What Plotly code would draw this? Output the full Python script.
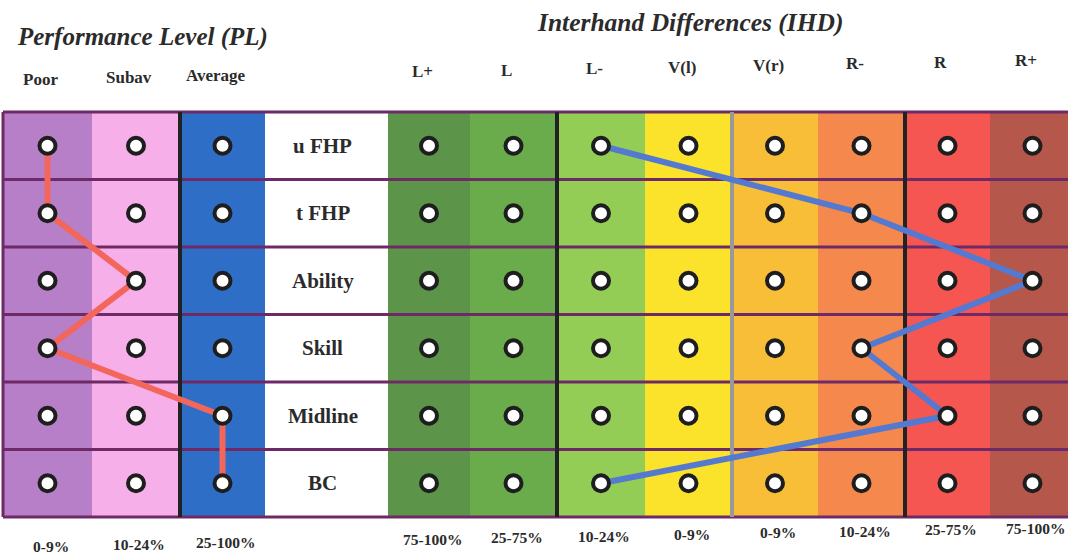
import plotly.graph_objects as go

# ---------------- data ----------------
pl_levels = ["Poor", "Subav", "Average"]
pl_ranges = ["0-9%", "10-24%", "25-100%"]
ihd_levels = ["L+", "L", "L-", "V(l)", "V(r)", "R-", "R", "R+"]
ihd_ranges = ["75-100%", "25-75%", "10-24%", "0-9%", "0-9%", "10-24%", "25-75%", "75-100%"]
rows = ["u FHP", "t FHP", "Ability", "Skill", "Midline", "BC"]
pl_result = ["Poor", "Poor", "Subav", "Poor", "Average", "Average"]
ihd_result = ["L-", "R-", "R+", "R-", "R", "L-"]

# ---------------- layout / style ----------------
W, H = 1068, 558
columns = pl_levels + ["__label__"] + ihd_levels
col_edges = [3, 92, 180, 265, 388, 470, 557, 645, 732, 818, 905, 990, 1075]
col_colors = {
    "Poor": "#b77fc7", "Subav": "#f6afe9", "Average": "#2f6ec6", "__label__": "#ffffff",
    "L+": "#5c9549", "L": "#6aac4c", "L-": "#93cd56", "V(l)": "#fbe22b",
    "V(r)": "#f8be38", "R-": "#f5884c", "R": "#f55652", "R+": "#b6574c",
}
TOP, ROW_H = 112, 67.5
n_rows = len(rows)
y_lo = -0.5 - TOP / ROW_H
y_hi = -0.5 + (H - TOP) / ROW_H


def cx(name):
    i = columns.index(name)
    return (col_edges[i] + col_edges[i + 1]) / 2


def py(px):  # pixel y -> paper
    return 1 - px / H


shapes = []
for i, c in enumerate(columns):
    shapes.append(dict(type="rect", xref="x", yref="y", x0=col_edges[i], x1=col_edges[i + 1],
                       y0=-0.5, y1=n_rows - 0.5, fillcolor=col_colors[c], line_width=0, layer="below"))
for r in range(n_rows + 1):
    shapes.append(dict(type="line", xref="x", yref="y", x0=col_edges[0], x1=col_edges[-1],
                       y0=r - 0.5, y1=r - 0.5, line=dict(color="#6e2a66", width=3), layer="below"))
shapes.append(dict(type="line", xref="x", yref="y", x0=col_edges[0], x1=col_edges[0],
                   y0=-0.5, y1=n_rows - 0.5, line=dict(color="#6e2a66", width=3), layer="below"))
for name, colr in [("Average", "#222222"), ("L-", "#222222"), ("V(r)", "#999999"), ("R", "#222222")]:
    x = col_edges[columns.index(name)]
    shapes.append(dict(type="line", xref="x", yref="y", x0=x, x1=x, y0=-0.5, y1=n_rows - 0.5,
                       line=dict(color=colr, width=4), layer="below"))

fig = go.Figure()

fig.add_trace(go.Scatter(x=[cx(v) for v in pl_result], y=list(range(n_rows)), mode="lines",
                         line=dict(color="#f2665c", width=6), hoverinfo="skip", showlegend=False))
fig.add_trace(go.Scatter(x=[cx(v) for v in ihd_result], y=list(range(n_rows)), mode="lines",
                         line=dict(color="#5479d0", width=6), hoverinfo="skip", showlegend=False))

mx, my = [], []
for r in range(n_rows):
    for c in pl_levels + ihd_levels:
        mx.append(cx(c))
        my.append(r)
fig.add_trace(go.Scatter(x=mx, y=my, mode="markers",
                         marker=dict(symbol="circle", size=16, color="white",
                                     line=dict(color="#1e1e1e", width=4)),
                         hoverinfo="skip", showlegend=False))

serif = "Liberation Serif"
txt = "#2b2b2b"
ann = []
for r, name in enumerate(rows):
    ann.append(dict(x=cx("__label__") - 4, y=r, xref="x", yref="y", text=f"<b>{name}</b>",
                    xanchor="center", yanchor="middle",
                    showarrow=False, font=dict(family=serif, size=21, color=txt)))
ann.append(dict(x=(15 + 270) / 2 / W, y=py(37), xref="paper", yref="paper",
                text="<b><i>Performance Level (PL)</i></b>", showarrow=False,
                xanchor="center", yanchor="middle",
                font=dict(family=serif, size=25, color=txt)))
ann.append(dict(x=(535 + 845) / 2 / W, y=py(22), xref="paper", yref="paper",
                text="<b><i>Interhand Differences (IHD)</i></b>", showarrow=False,
                xanchor="center", yanchor="middle",
                font=dict(family=serif, size=25.5, color=txt)))
for c, rng in zip(pl_levels + ihd_levels, pl_ranges + ihd_ranges):
    xh = cx(c) - 7
    ann.append(dict(x=xh / W, y=py(80 - 0.019 * xh), xref="paper", yref="paper", text=f"<b>{c}</b>",
                    xanchor="center", yanchor="middle",
                    showarrow=False, font=dict(family=serif, size=17, color=txt)))
    xb = cx(c) + 3
    ann.append(dict(x=xb / W, y=py(547 - 0.018 * xb), xref="paper", yref="paper", text=f"<b>{rng}</b>",
                    xanchor="center", yanchor="middle",
                    showarrow=False, font=dict(family=serif, size=15.5, color=txt)))

fig.update_layout(
    width=W, height=H, margin=dict(l=0, r=0, t=0, b=0),
    paper_bgcolor="white", plot_bgcolor="white",
    xaxis=dict(range=[0, W], visible=False, fixedrange=True),
    yaxis=dict(range=[y_hi, y_lo], visible=False, fixedrange=True),
    shapes=shapes, annotations=ann,
)

fig.write_html("out.html", config={"displayModeBar": False},
               post_script="document.body.style.margin='0px';document.body.style.overflow='hidden';")
